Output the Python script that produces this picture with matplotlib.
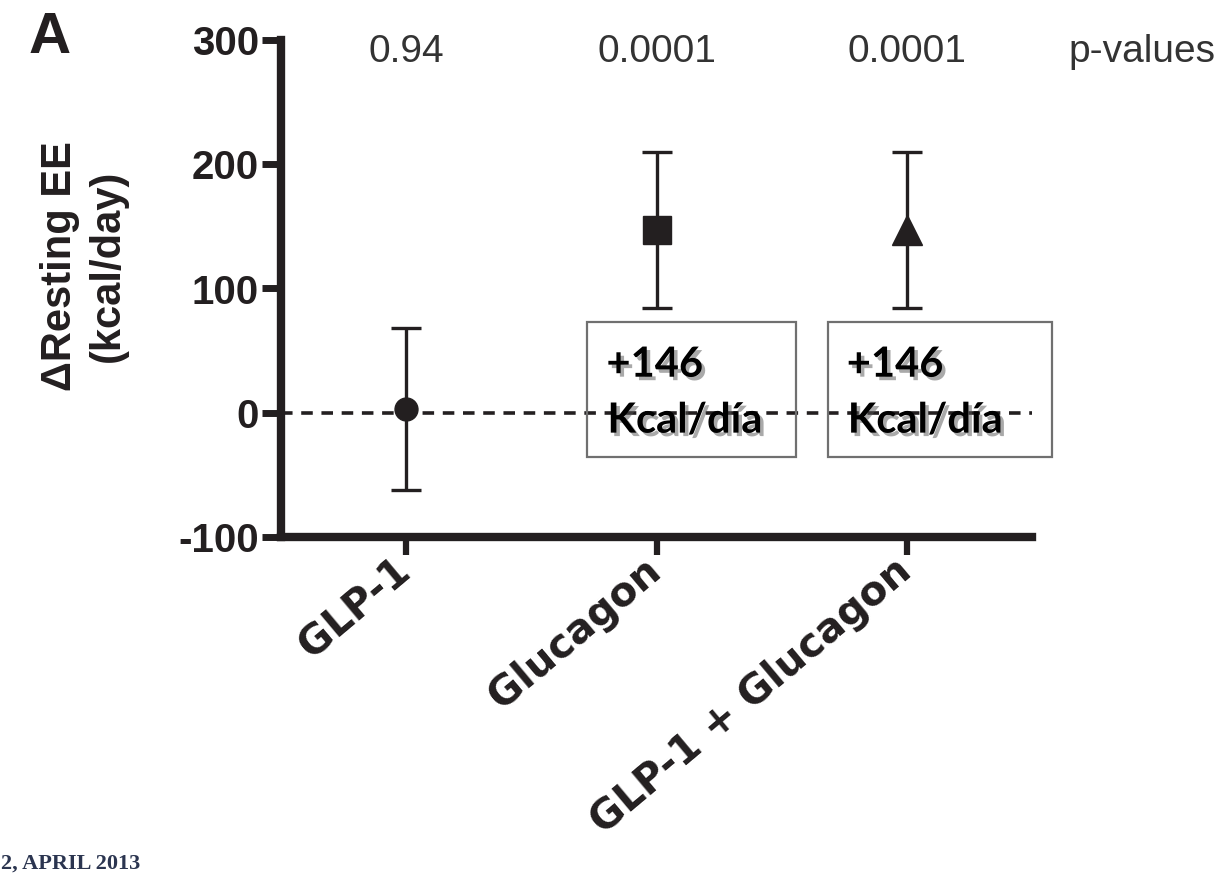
"""
Resting energy expenditure change by treatment group
"""

import matplotlib
matplotlib.use('Agg')
import matplotlib.pyplot as plt
import matplotlib.patheffects as pe
import matplotlib.transforms as mtransforms
from matplotlib.patches import Rectangle
import numpy as np

# Data
groups = ['GLP-1', 'Glucagon', 'GLP-1 + Glucagon']
means = [3, 147, 147]
errors = [65, 63, 63]
markers = ['o', 's', '^']
marker_sizes = [16.5, 19.5, 21]
p_values = ['0.94', '0.0001', '0.0001']
yticks = [-100, 0, 100, 200, 300]
box_text = ['+146', 'Kcal/día']

ink = '#231f20'
sans = ['Liberation Sans', 'DejaVu Sans']

fig = plt.figure(figsize=(12.26, 8.88), dpi=100)
ax = fig.add_axes([281 / 1226, 1 - 537 / 888, 751 / 1226, 497 / 888])

x = np.arange(len(groups))

# Zero reference line
ax.axhline(0, color=ink, linewidth=2.6, linestyle=(0, (3.2, 2.4)), zorder=1)

for xi, m, e, mk, ms in zip(x, means, errors, markers, marker_sizes):
    ax.errorbar(xi, m, yerr=e, fmt=mk, color=ink, ms=ms, capsize=10.5,
                elinewidth=2.4, capthick=2.4, zorder=3)

ax.set_xlim(-0.5, 2.5)
ax.set_ylim(-100, 300)
ax.set_yticks(yticks)
ax.set_yticklabels([str(t) for t in yticks], fontsize=29, fontweight='bold',
                   family=sans, color=ink)
ax.set_xticks(x)
ax.set_xticklabels(groups, rotation=40, ha='right', va='center',
                   rotation_mode='anchor', fontsize=29, fontweight='bold',
                   family='DejaVu Sans', color=ink)
shift = mtransforms.ScaledTranslation(8 / 100, -4 / 100, fig.dpi_scale_trans)
for lab in ax.get_xticklabels():
    lab.set_transform(lab.get_transform() + shift)

for side in ['top', 'right']:
    ax.spines[side].set_visible(False)
for side in ['left', 'bottom']:
    ax.spines[side].set_linewidth(6)
    ax.spines[side].set_color(ink)
ax.tick_params(axis='y', direction='out', length=14, width=5, pad=2, color=ink)
ax.tick_params(axis='x', direction='out', length=13, width=4.5, pad=8, color=ink)

# p-values above each group
for xi, p in zip(x, p_values):
    ax.text(xi, 290, p, ha='center', va='center', fontsize=28,
            family=sans, color='#333333')
ax.text(2.645, 290, 'p-values', ha='left', va='center', fontsize=28,
        family=sans, color='#333333', clip_on=False)

# Annotation boxes
shadow = [pe.SimplePatchShadow(offset=(2.5, -2.5), shadow_rgbFace='#555555', alpha=0.5),
          pe.Normal()]
box_left = [0.724, 1.684]
box_width = [0.832, 0.896]
for bx, bw in zip(box_left, box_width):
    ax.add_patch(Rectangle((bx, -35.4), bw, 108.4, fill=False,
                           edgecolor='#707070', linewidth=1.6, clip_on=False, zorder=2))
    ax.text(bx + 0.076, 29, box_text[0], ha='left', va='baseline', fontsize=30,
            fontweight='bold', family=['Lato', 'DejaVu Sans'], color='black',
            path_effects=shadow, zorder=4)
    ax.text(bx + 0.08, -16, box_text[1], ha='left', va='baseline', fontsize=30,
            fontweight='bold', family=['Lato', 'DejaVu Sans'], color='black',
            path_effects=shadow, zorder=4)

# Axis label and panel letter
fig.text(84 / 1226, 1 - 266 / 888, '\u0394Resting EE\n(kcal/day)', rotation=90,
         ha='center', va='center', multialignment='center', linespacing=1.25,
         fontsize=30, fontweight='bold', family=sans, color=ink)
fig.text(50 / 1226, 1 - 38 / 888, 'A', ha='center', va='center', fontsize=42,
         fontweight='bold', family=sans, color=ink)

# Journal footer fragment
fig.text(1 / 1226, 1 - 864 / 888, '2, APRIL 2013', ha='left', va='center',
         fontsize=16, fontweight='bold', family=['Liberation Serif', 'DejaVu Serif'],
         color='#2b3550')

fig.savefig('out.png', dpi=100)
plt.close(fig)
